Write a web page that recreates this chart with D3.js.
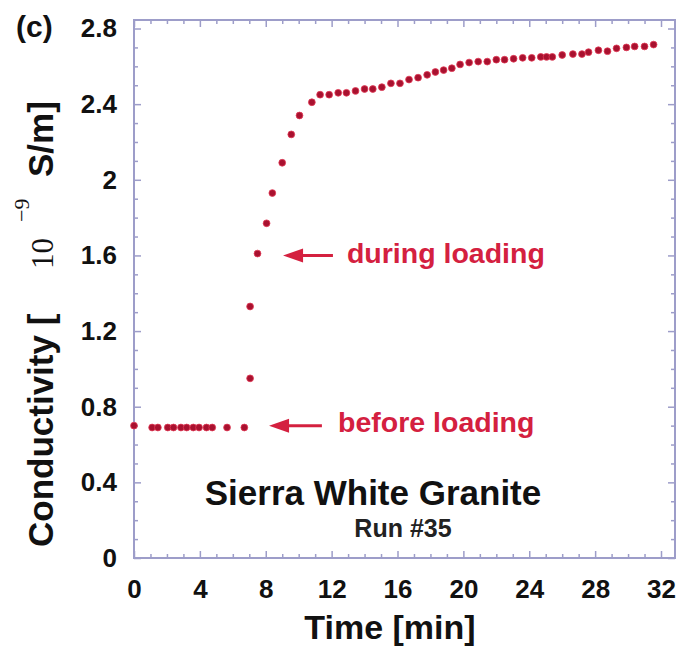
<!DOCTYPE html>
<html>
<head>
<meta charset="utf-8">
<script src="https://cdn.jsdelivr.net/npm/d3@7"></script>
<style>
  body { margin: 0; background: #fff; }
  svg { display: block; }
</style>
</head>
<body>
<div id="chart"></div>
<script>
// time in minutes, conductivity in 10^-9 S/m
const timeMin = [
  0.0, 1.1, 1.45, 2.05, 2.4, 2.85, 3.2, 3.6, 3.95, 4.4, 4.75, 5.65, 6.7,
  7.05, 7.05, 7.5, 8.05, 8.4, 9.0, 9.55, 10.05, 10.8,
  11.3, 11.85, 12.4, 12.9, 13.45, 14.0, 14.5, 15.05, 15.6, 16.15, 16.7,
  17.25, 17.8, 18.3, 18.8, 19.3, 19.8, 20.35, 20.9, 21.45, 22.0, 22.5,
  23.05, 23.6, 24.15, 24.7, 25.05, 25.4, 26.0, 26.65, 27.2, 27.6, 28.2,
  28.75, 29.3, 29.9, 30.4, 31.0, 31.55
];
const conductivity = [
  0.70, 0.69, 0.69, 0.69, 0.69, 0.69, 0.69, 0.69, 0.69, 0.69, 0.69, 0.69, 0.69,
  0.95, 1.33, 1.61, 1.77, 1.93, 2.09, 2.24, 2.34, 2.41,
  2.45, 2.45, 2.46, 2.46, 2.47, 2.48, 2.48, 2.49, 2.51, 2.51, 2.53,
  2.54, 2.555, 2.57, 2.58, 2.59, 2.61, 2.62, 2.625, 2.625, 2.635, 2.635,
  2.64, 2.645, 2.645, 2.65, 2.65, 2.65, 2.66, 2.665, 2.665, 2.675, 2.685,
  2.68, 2.695, 2.70, 2.705, 2.705, 2.715
];
const xMajorTicks = [0, 4, 8, 12, 16, 20, 24, 28, 32];
const yMajorTicks = [0, 0.4, 0.8, 1.2, 1.6, 2.0, 2.4, 2.8];

const data = timeMin.map((t, i) => ({ t: t, v: conductivity[i] }));

const W = 678, H = 649;
const margin = { top: 20, right: 3, bottom: 91, left: 134 },
  width = W - margin.left - margin.right,
  height = H - margin.top - margin.bottom;

const sans = "'Liberation Sans', Arial, Helvetica, sans-serif";
const serif = "'Liberation Serif', 'Times New Roman', serif";
const frameColor = "#9d9dc9";
const red = "#d4203f";

const svg = d3.select("#chart")
  .append("svg")
  .attr("width", W)
  .attr("height", H)
  .style("font-family", sans);

svg.append("rect").attr("width", W).attr("height", H).attr("fill", "#fff");

const g = svg.append("g")
  .attr("transform", `translate(${margin.left},${margin.top})`);

const x = d3.scaleLinear().domain([0, 32.85]).range([0, width]);
const y = d3.scaleLinear().domain([0, 2.845]).range([height, 0]);

const xMinor = d3.range(0, 33, 1).filter(d => d % 4 !== 0);
const yMinor = d3.range(1, 29).map(d => d / 10).filter((d, i) => (i + 1) % 4 !== 0);

function styleAxis(sel) {
  sel.select(".domain").remove();
  sel.selectAll(".tick line").attr("stroke", frameColor).attr("stroke-width", 1.5);
  sel.selectAll("text")
    .attr("fill", "#111")
    .style("font-size", "26px")
    .style("font-weight", "bold")
    .style("font-family", sans);
}

// bottom axis (labelled), ticks pointing inward
g.append("g")
  .attr("transform", `translate(0,${height})`)
  .call(d3.axisBottom(x).tickValues(xMajorTicks).tickSize(-7).tickSizeOuter(0).tickPadding(22))
  .call(styleAxis);
g.append("g")
  .attr("transform", `translate(0,${height})`)
  .call(d3.axisBottom(x).tickValues(xMinor).tickSize(-4).tickFormat(""))
  .call(styleAxis);

// top axis
g.append("g")
  .call(d3.axisTop(x).tickValues(xMajorTicks).tickSize(-7).tickFormat(""))
  .call(styleAxis);
g.append("g")
  .call(d3.axisTop(x).tickValues(xMinor).tickSize(-4).tickFormat(""))
  .call(styleAxis);

// left axis (labelled)
g.append("g")
  .call(d3.axisLeft(y).tickValues(yMajorTicks).tickSize(-7).tickSizeOuter(0).tickPadding(17)
    .tickFormat(d => String(+d.toFixed(1))))
  .call(styleAxis);
g.append("g")
  .call(d3.axisLeft(y).tickValues(yMinor).tickSize(-4).tickFormat(""))
  .call(styleAxis);

// right axis
g.append("g")
  .attr("transform", `translate(${width},0)`)
  .call(d3.axisRight(y).tickValues(yMajorTicks).tickSize(-7).tickFormat(""))
  .call(styleAxis);
g.append("g")
  .attr("transform", `translate(${width},0)`)
  .call(d3.axisRight(y).tickValues(yMinor).tickSize(-4).tickFormat(""))
  .call(styleAxis);

// frame
g.append("rect")
  .attr("width", width)
  .attr("height", height)
  .attr("fill", "none")
  .attr("stroke", frameColor)
  .attr("stroke-width", 2);

// data points
g.selectAll(".pt")
  .data(data)
  .enter()
  .append("circle")
  .attr("class", "pt")
  .attr("cx", d => x(d.t))
  .attr("cy", d => y(d.v))
  .attr("r", 3.4)
  .attr("fill", "#a8112f")
  .attr("stroke", "#e23a55")
  .attr("stroke-width", 0.8);

// arrows + annotation text
function arrow(t0, t1, v) {
  const xt = x(t0), xe = x(t1), yy = y(v);
  g.append("line")
    .attr("x1", xt + 16).attr("x2", xe)
    .attr("y1", yy).attr("y2", yy)
    .attr("stroke", red)
    .attr("stroke-width", 3);
  g.append("path")
    .attr("d", `M${xt},${yy} L${xt + 20},${yy - 7} L${xt + 20},${yy + 7} Z`)
    .attr("fill", red);
}

arrow(9.05, 12.08, 1.6);
g.append("text")
  .attr("x", x(12.93))
  .attr("y", y(1.6) + 8)
  .attr("fill", red)
  .style("font-size", "28.5px")
  .style("font-weight", "bold")
  .text("during loading");

arrow(8.2, 11.41, 0.7);
g.append("text")
  .attr("x", x(12.39))
  .attr("y", y(0.7) + 6)
  .attr("fill", red)
  .style("font-size", "28.5px")
  .style("font-weight", "bold")
  .text("before loading");

// sample label
svg.append("text")
  .attr("x", 373)
  .attr("y", 505)
  .attr("text-anchor", "middle")
  .attr("fill", "#111")
  .style("font-size", "35px")
  .style("font-weight", "bold")
  .text("Sierra White Granite");

svg.append("text")
  .attr("x", 403)
  .attr("y", 537)
  .attr("text-anchor", "middle")
  .attr("fill", "#222")
  .style("font-size", "25px")
  .style("font-weight", "bold")
  .text("Run #35");

// x axis title
svg.append("text")
  .attr("x", 390)
  .attr("y", 639)
  .attr("text-anchor", "middle")
  .attr("fill", "#111")
  .style("font-size", "34px")
  .style("font-weight", "bold")
  .text("Time [min]");

// y axis title, rotated
const yTitle = svg.append("text")
  .attr("transform", "translate(53,547) rotate(-90)")
  .attr("fill", "#111");
yTitle.append("tspan")
  .attr("x", 0)
  .style("font-size", "35px")
  .style("font-weight", "bold")
  .text("Conductivity [");
yTitle.append("tspan")
  .attr("x", 278)
  .style("font-family", serif)
  .style("font-size", "31px")
  .text("10");
yTitle.append("tspan")
  .attr("x", 325)
  .attr("dy", -24)
  .style("font-family", serif)
  .style("font-size", "22px")
  .text("\u22129");
yTitle.append("tspan")
  .attr("x", 370)
  .attr("dy", 24)
  .style("font-size", "35px")
  .style("font-weight", "bold")
  .text("S/m]");

// panel letter
svg.append("text")
  .attr("x", 16)
  .attr("y", 37)
  .attr("fill", "#111")
  .style("font-size", "30px")
  .style("font-weight", "bold")
  .text("(c)");
</script>
</body>
</html>
